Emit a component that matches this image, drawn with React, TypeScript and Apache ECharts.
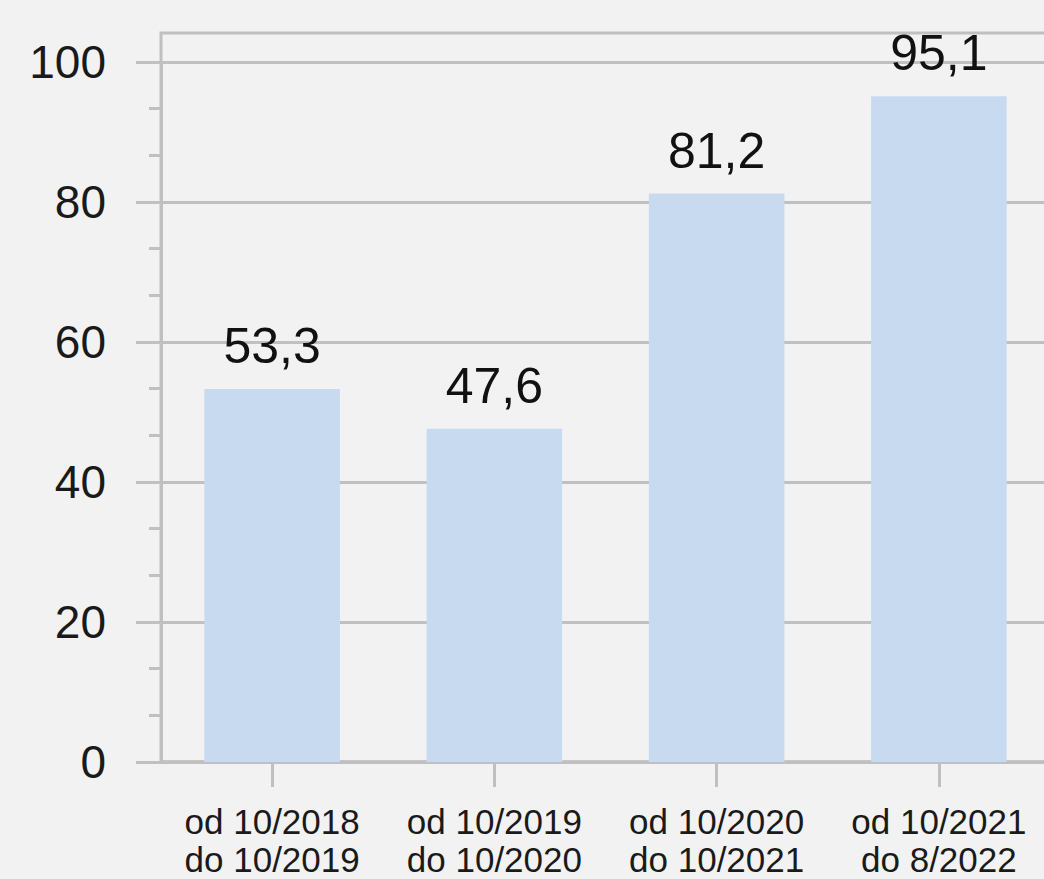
import React, { useEffect, useRef } from "react";
import * as echarts from "echarts";

const categories = [
  "od 10/2018\ndo 10/2019",
  "od 10/2019\ndo 10/2020",
  "od 10/2020\ndo 10/2021",
  "od 10/2021\ndo 8/2022",
];
const values = [53.3, 47.6, 81.2, 95.1];
const yMin = 0;
const yMax = 100;
const yInterval = 20;

const FONT = "'Liberation Sans', Arial, sans-serif";
const GRAY = "#c0c0c0";

export default function App() {
  const ref = useRef<HTMLDivElement>(null);
  useEffect(() => {
    if (!ref.current) return;
    const chart = echarts.init(ref.current, undefined, { renderer: "svg" });
    chart.setOption({
      animation: false,
      backgroundColor: "#f2f2f2",
      textStyle: { fontFamily: FONT },
      grid: [
        { left: 161, width: 889, top: 62, bottom: 117, containLabel: false, outerBoundsMode: "none" },
        {
          left: 161,
          width: 889,
          top: 33,
          bottom: 117,
          outerBoundsMode: "none",
          show: true,
          borderColor: GRAY,
          borderWidth: 3,
          backgroundColor: "transparent",
        },
      ],
      xAxis: [
        {
          type: "category",
          gridIndex: 0,
          data: categories,
          axisLine: { show: true, lineStyle: { color: GRAY, width: 3.5 } },
          axisTick: {
            show: true,
            alignWithLabel: true,
            length: 25,
            lineStyle: { color: GRAY, width: 3 },
          },
          axisLabel: {
            fontSize: 35,
            lineHeight: 38,
            margin: 40,
            color: "#1a1a1a",
            fontFamily: FONT,
            interval: 0,
          },
        },
        { type: "value", gridIndex: 1, show: false },
      ],
      yAxis: [
        {
          type: "value",
          gridIndex: 0,
          min: yMin,
          max: yMax,
          interval: yInterval,
          axisLine: { show: true, lineStyle: { color: GRAY, width: 3 } },
          axisTick: { show: true, length: 25, lineStyle: { color: GRAY, width: 3 } },
          minorTick: { show: true, splitNumber: 3, length: 12, lineStyle: { color: GRAY, width: 3 } },
          splitLine: { show: true, lineStyle: { color: GRAY, width: 3 } },
          axisLabel: { fontSize: 46, margin: 55, color: "#1a1a1a", fontFamily: FONT },
        },
        { type: "value", gridIndex: 1, show: false },
      ],
      series: [
        {
          type: "bar",
          xAxisIndex: 0,
          yAxisIndex: 0,
          data: values,
          barWidth: "61%",
          itemStyle: { color: "#c8daf0" },
          label: {
            show: true,
            position: "top",
            distance: 18,
            fontSize: 50,
            color: "#111111",
            fontFamily: FONT,
            formatter: (p: any) => String(p.value).replace(".", ","),
          },
        },
      ],
    });
    return () => chart.dispose();
  }, []);
  return (
    <div
      ref={ref}
      style={{ position: "absolute", left: 0, top: 0, width: 1044, height: 879 }}
    />
  );
}
